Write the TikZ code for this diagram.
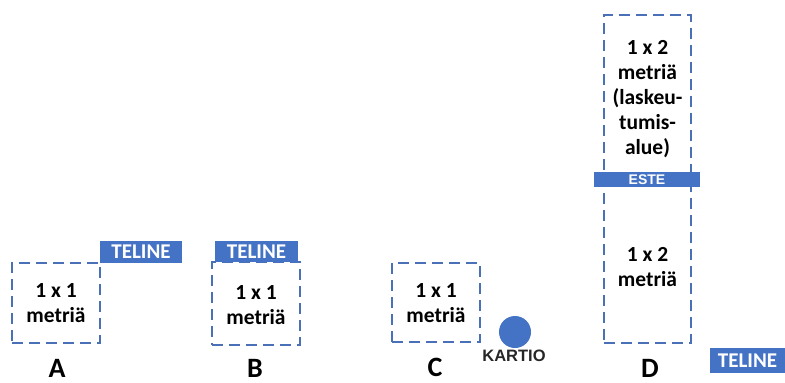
\documentclass[tikz,border=0pt]{standalone}
\usepackage{fontspec}
\setmainfont{Carlito}
\newfontfamily\arialfont{Liberation Sans}
\definecolor{obl}{RGB}{68,114,196}
\definecolor{dbl}{RGB}{74,112,184}
\begin{document}
\begin{tikzpicture}[x=1pt,y=-1pt,
  area/.style={draw=dbl,line width=2.9pt,dash pattern=on 11pt off 6pt,minimum width=#1,inner sep=0pt},
  btxt/.style={font=\fontsize{21.5}{25}\selectfont\bfseries,align=center,text=black,inner sep=0pt},
  tag/.style={fill=obl,text=white,inner sep=0pt,font=\fontsize{21}{21}\selectfont\bfseries},
  lbl/.style={font=\fontsize{28}{28}\selectfont\bfseries,text=black,inner sep=0pt}]
\useasboundingbox (0,0) rectangle (785,383);
% A
\node[area=88pt,minimum height=80pt] (boxA) at (56,303) {};
\node[btxt] (tA) at (56,303) {1 x 1\\metriä};
\node[tag,minimum width=82pt,minimum height=22pt] (telA) at (141,252) {TELINE};
\node[lbl] (lA) at (57,368) {A};
% B
\node[area=88pt,minimum height=83pt] (boxB) at (256,303.5) {};
\node[btxt] (tB) at (256,305) {1 x 1\\metriä};
\node[tag,minimum width=83pt,minimum height=21pt] (telB) at (256.5,251.5) {TELINE};
\node[lbl] (lB) at (255,368) {B};
% C
\node[area=88pt,minimum height=79pt] (boxC) at (436,302.5) {};
\node[btxt] (tC) at (436,303) {1 x 1\\metriä};
\node[circle,fill=obl,minimum size=32pt,inner sep=0pt] (cone) at (515,332) {};
\node[font=\arialfont\fontsize{16.5}{16.5}\selectfont\bfseries,text=black!85,inner sep=0pt] (kart) at (514,356) {KARTIO};
\node[lbl] (lC) at (435,367.5) {C};
% D
\node[area=87pt,minimum height=328pt] (boxD) at (647.5,179) {};
\node[btxt] (tD1) at (647.5,99) {1 x 2\\metriä\\(laskeu-\\tumis-\\alue)};
\node[btxt] (tD2) at (647.5,267) {1 x 2\\metriä};
\node[fill=obl,text=white,inner sep=0pt,minimum width=106pt,minimum height=15pt,font=\arialfont\fontsize{14}{14}\selectfont\bfseries] (este) at (647,179.5) {ESTE};
\node[tag,minimum width=76pt,minimum height=25pt] (telD) at (747.5,360.5) {TELINE};
\node[lbl] (lD) at (650,368) {D};
\end{tikzpicture}
\end{document}
